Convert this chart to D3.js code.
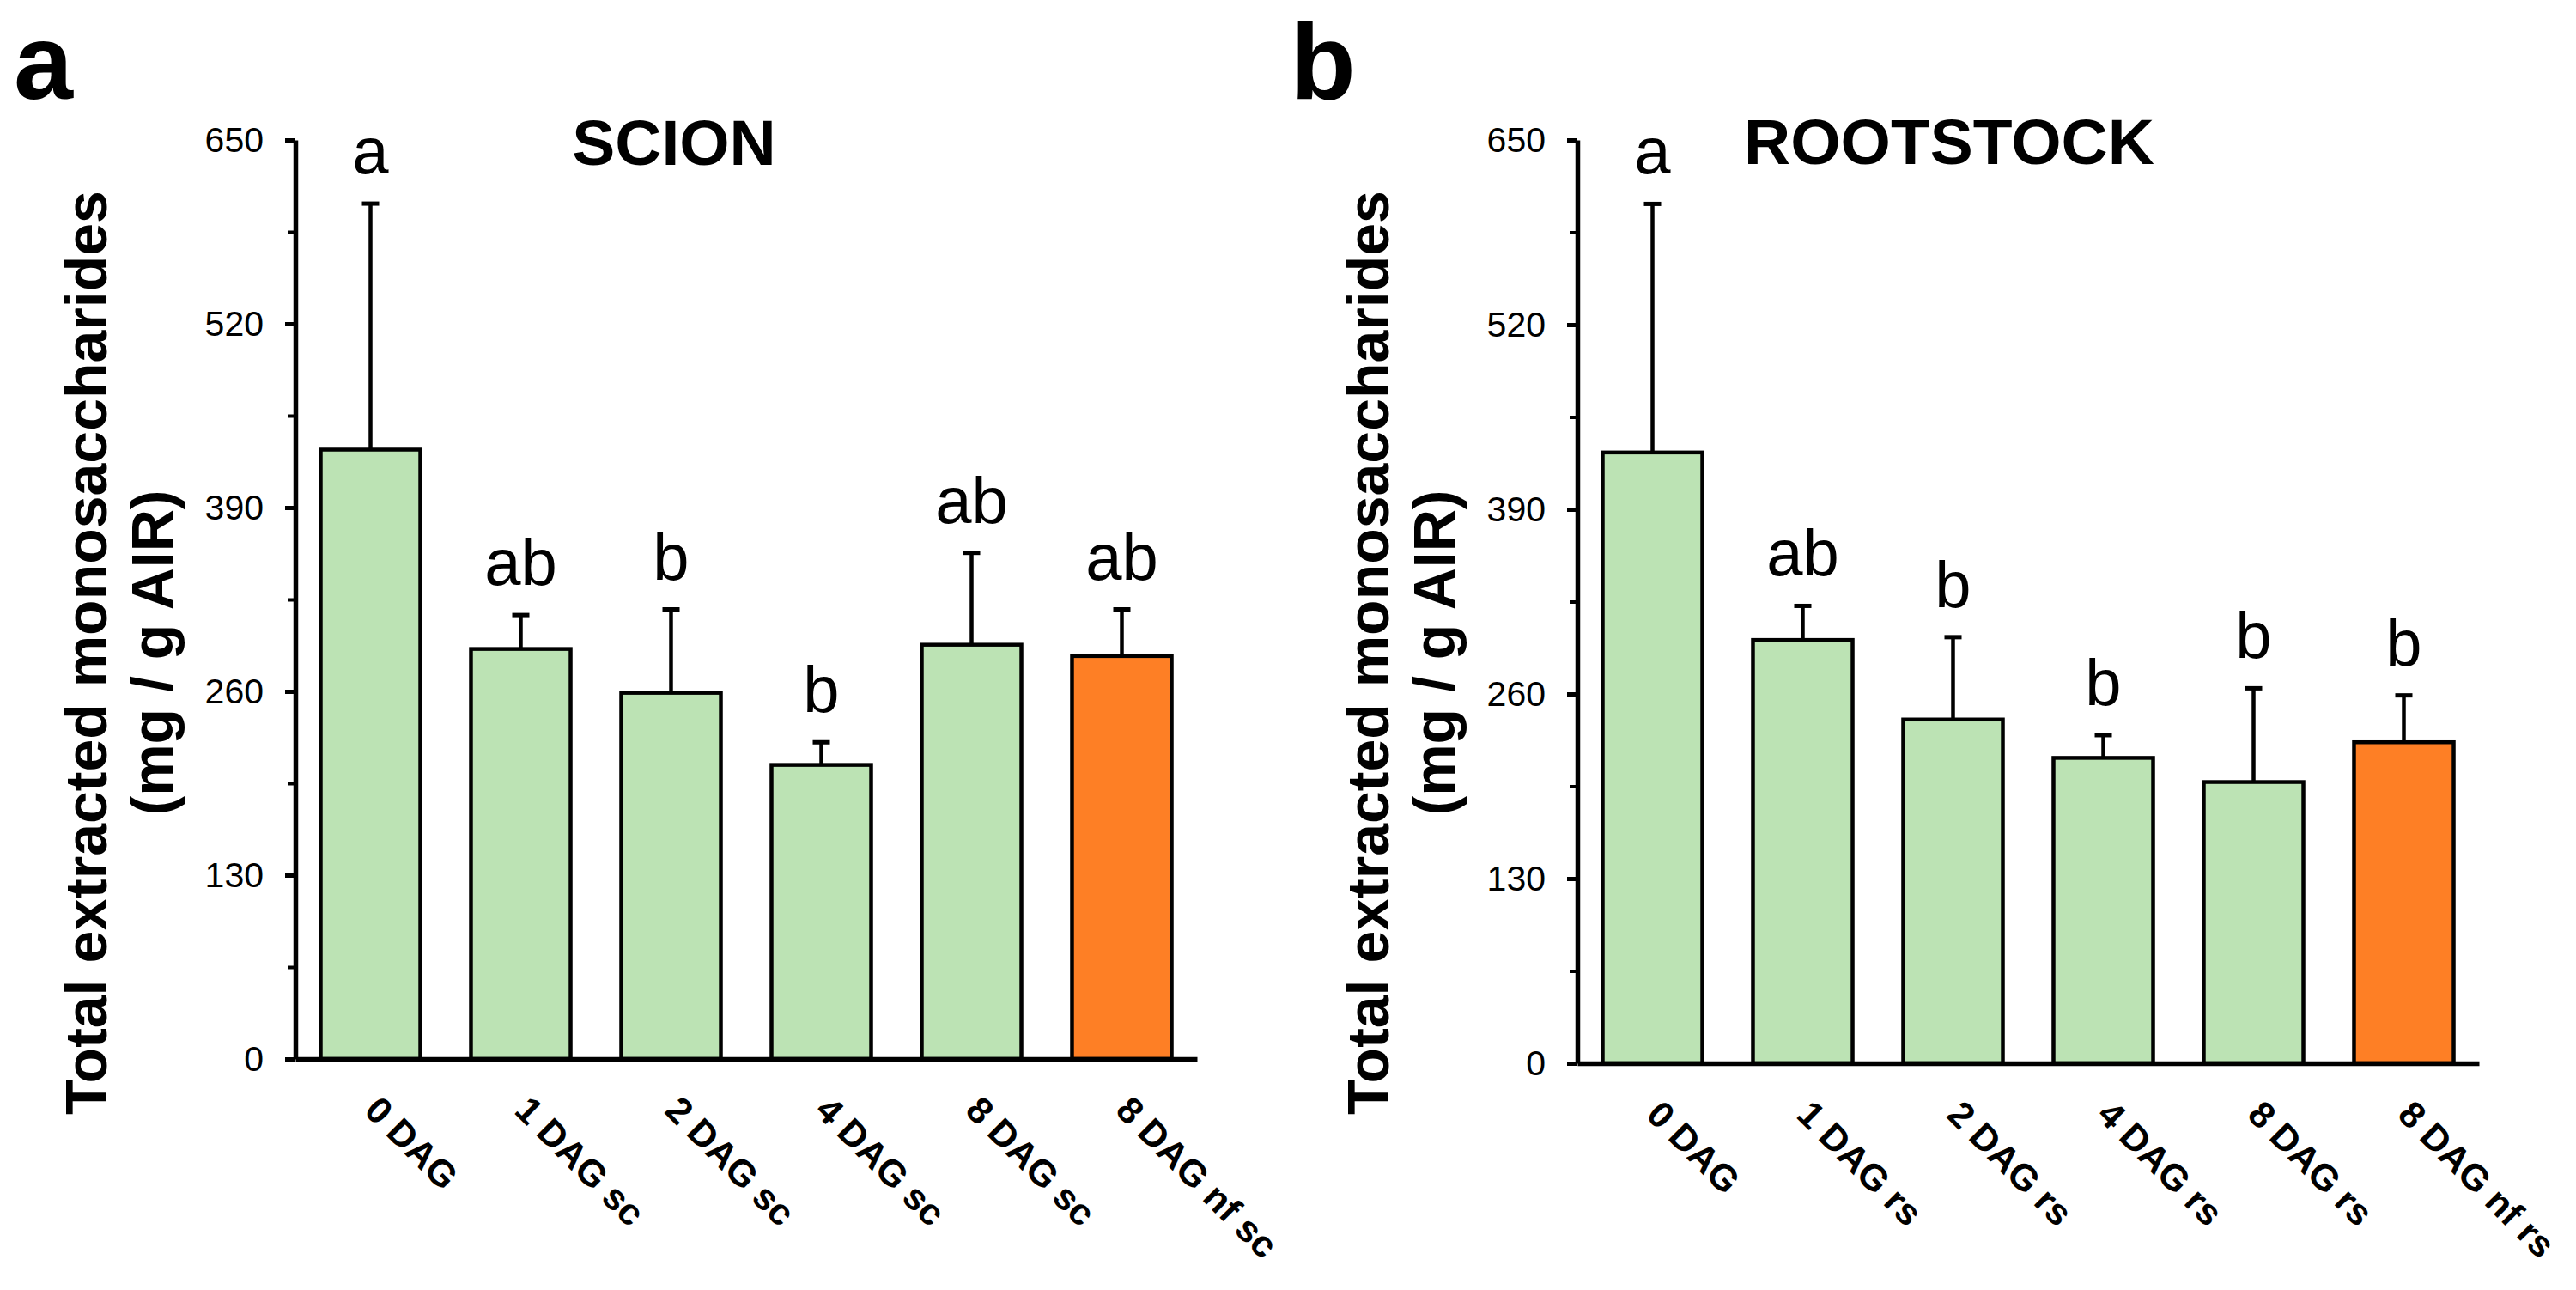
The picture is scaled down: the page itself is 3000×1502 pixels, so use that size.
<!DOCTYPE html>
<html>
<head>
<meta charset="utf-8">
<script src="https://cdn.jsdelivr.net/npm/d3@7"></script>
<style>
  html, body { margin: 0; padding: 0; background: #fff; }
  svg { display: block; }
  text { font-family: "Liberation Sans", Arial, sans-serif; fill: #000; }
</style>
</head>
<body>
<svg id="chart" width="3000" height="1502"></svg>
<script>
// ---- data ----
const categoriesScion = ["0 DAG", "1 DAG sc", "2 DAG sc", "4 DAG sc", "8 DAG sc", "8 DAG nf sc"];
const meansScion = [431, 290, 259, 208, 293, 285];
const errorsScion = [174, 24, 59, 16, 65, 33];
const lettersScion = ["a", "ab", "b", "b", "ab", "ab"];

const categoriesRoot = ["0 DAG", "1 DAG rs", "2 DAG rs", "4 DAG rs", "8 DAG rs", "8 DAG nf rs"];
const meansRoot = [430, 298, 242, 215, 198, 226];
const errorsRoot = [175, 24, 58, 16, 66, 33];
const lettersRoot = ["a", "ab", "b", "b", "b", "b"];

const yTickValues = [0, 130, 260, 390, 520, 650];
const yMinorTickValues = [65, 195, 325, 455, 585];
const yMax = 650;

const panelTitles = ["SCION", "ROOTSTOCK"];
const panelLetters = ["a", "b"];
const yTitleLines = ["Total extracted monosaccharides", "(mg / g AIR)"];

// ---- style / layout ----
const GREEN = "#bce3b4";
const ORANGE = "#fe7f25";

const svg = d3.select("#chart");

const panels = [
  { cats: categoriesScion, means: meansScion, errs: errorsScion, letters: lettersScion,
    title: panelTitles[0], tag: panelLetters[0],
    x0: 344, x1: 1394, yTop: 163, yBot: 1233, titleX: 785, titleY: 192, tagX: 16, tagY: 115 },
  { cats: categoriesRoot, means: meansRoot, errs: errorsRoot, letters: lettersRoot,
    title: panelTitles[1], tag: panelLetters[1],
    x0: 1837, x1: 2887, yTop: 163, yBot: 1238, titleX: 2270, titleY: 191, tagX: 1503, tagY: 115 }
];

panels.forEach(p => {
  const g = svg.append("g");
  const x = d3.scaleBand().domain(p.cats).range([p.x0, p.x1])
    .paddingInner(0.337).paddingOuter(0.1685);
  const y = d3.scaleLinear().domain([0, yMax]).range([p.yBot, p.yTop]);
  const data = p.cats.map((c, i) => ({ c, m: p.means[i], e: p.errs[i], l: p.letters[i], i }));
  const n = p.cats.length;

  // bars
  g.selectAll("rect.bar").data(data).join("rect")
    .attr("class", "bar")
    .attr("x", d => x(d.c))
    .attr("y", d => y(d.m))
    .attr("width", x.bandwidth())
    .attr("height", d => y(0) - y(d.m))
    .attr("fill", d => d.i === n - 1 ? ORANGE : GREEN)
    .attr("stroke", "#000")
    .attr("stroke-width", 4.5);

  // error bars
  const cx = d => x(d.c) + x.bandwidth() / 2;
  g.selectAll("line.err").data(data).join("line")
    .attr("class", "err")
    .attr("x1", cx).attr("x2", cx)
    .attr("y1", d => y(d.m)).attr("y2", d => y(d.m + d.e))
    .attr("stroke", "#000").attr("stroke-width", 4.5);
  g.selectAll("line.cap").data(data).join("line")
    .attr("class", "cap")
    .attr("x1", d => cx(d) - 10).attr("x2", d => cx(d) + 10)
    .attr("y1", d => y(d.m + d.e)).attr("y2", d => y(d.m + d.e))
    .attr("stroke", "#000").attr("stroke-width", 5);

  // significance letters
  g.selectAll("text.sig").data(data).join("text")
    .attr("class", "sig")
    .attr("x", cx)
    .attr("y", d => y(d.m + d.e) - 35)
    .attr("text-anchor", "middle")
    .style("font-size", "76px")
    .text(d => d.l);

  // y axis major
  const yAxis = g.append("g").attr("transform", `translate(${p.x0},0)`)
    .call(d3.axisLeft(y).tickValues(yTickValues).tickSize(12).tickSizeOuter(0).tickPadding(25));
  yAxis.select(".domain").attr("stroke-width", 5.5);
  yAxis.selectAll(".tick line").attr("stroke-width", 5);
  yAxis.selectAll(".tick text").style("font-size", "41px").style("font-family", "'Liberation Sans', Arial, sans-serif");

  // y axis minor
  const yMinor = g.append("g").attr("transform", `translate(${p.x0},0)`)
    .call(d3.axisLeft(y).tickValues(yMinorTickValues).tickSize(9).tickSizeOuter(0).tickFormat(""));
  yMinor.select(".domain").remove();
  yMinor.selectAll(".tick line").attr("stroke-width", 4);

  // x axis
  const xAxis = g.append("g").attr("transform", `translate(0,${p.yBot})`)
    .call(d3.axisBottom(x).tickSize(0).tickSizeOuter(0));
  xAxis.select(".domain").attr("stroke-width", 5.5);
  xAxis.selectAll(".tick text")
    .attr("x", 0).attr("y", 0).attr("dy", 0)
    .attr("transform", "translate(-9,62) rotate(45)")
    .style("text-anchor", "start")
    .style("font-size", "43px")
    .style("font-weight", "bold")
    .style("font-family", "'Liberation Sans', Arial, sans-serif");

  // y title
  const yMid = 760;
  g.append("text")
    .attr("transform", `translate(${p.x0 - 220},${yMid}) rotate(-90)`)
    .attr("text-anchor", "middle")
    .style("font-size", "68px").style("font-weight", "bold")
    .text(yTitleLines[0]);
  g.append("text")
    .attr("transform", `translate(${p.x0 - 143},${yMid}) rotate(-90)`)
    .attr("text-anchor", "middle")
    .style("font-size", "68px").style("font-weight", "bold")
    .text(yTitleLines[1]);

  // title
  g.append("text")
    .attr("x", p.titleX).attr("y", p.titleY)
    .attr("text-anchor", "middle")
    .style("font-size", "75px").style("font-weight", "bold")
    .text(p.title);

  // panel tag
  g.append("text")
    .attr("x", p.tagX).attr("y", p.tagY)
    .style("font-size", "124px").style("font-weight", "bold")
    .text(p.tag);
});
</script>
</body>
</html>
